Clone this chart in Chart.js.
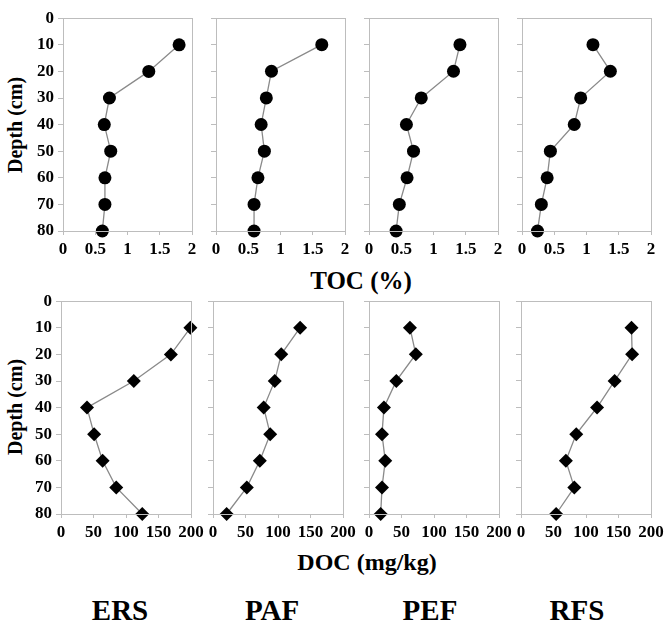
<!DOCTYPE html>
<html>
<head>
<meta charset="utf-8">
<script src="https://cdn.jsdelivr.net/npm/chart.js@4.4.0/dist/chart.umd.min.js"></script>
<style>
  html, body { margin: 0; padding: 0; background: #fff; }
  #fig { position: relative; width: 665px; height: 622px; overflow: hidden; font-family: "Liberation Serif", "Times New Roman", serif; font-weight: bold; color: #000; }
  #fig canvas { position: absolute; }
  .lbl { position: absolute; transform: translate(-50%, -50%); white-space: nowrap; line-height: 1; }
  .ylbl { position: absolute; transform: translate(-50%, -50%) rotate(-90deg); white-space: nowrap; font-size: 20px; line-height: 1; }
</style>
</head>
<body>
<div id="fig">
  <div class="ylbl" style="left:15px; top:125px;">Depth (cm)</div>
  <div class="ylbl" style="left:15px; top:407px;">Depth (cm)</div>
  <div class="lbl" style="left:361px; top:280px; font-size:25px;">TOC (%)</div>
  <div class="lbl" style="left:367px; top:562px; font-size:24px;">DOC (mg/kg)</div>
  <div class="lbl" style="left:120px; top:610px; font-size:29px;">ERS</div>
  <div class="lbl" style="left:272px; top:610px; font-size:29px;">PAF</div>
  <div class="lbl" style="left:430px; top:610px; font-size:29px;">PEF</div>
  <div class="lbl" style="left:577px; top:610px; font-size:29px;">RFS</div>
</div>
<script>
  const depths = [10, 20, 30, 40, 50, 60, 70, 80];

  // TOC (%) by depth
  const tocERS = [1.80, 1.33, 0.72, 0.64, 0.74, 0.65, 0.65, 0.61];
  const tocPAF = [1.64, 0.86, 0.78, 0.70, 0.75, 0.65, 0.59, 0.59];
  const tocPEF = [1.41, 1.31, 0.81, 0.58, 0.69, 0.59, 0.47, 0.42];
  const tocRFS = [1.10, 1.37, 0.91, 0.81, 0.44, 0.39, 0.30, 0.24];

  // DOC (mg/kg) by depth
  const docERS = [199, 169, 112, 40, 51, 64, 85, 125];
  const docPAF = [134, 105, 95, 78, 88, 72, 52, 21];
  const docPEF = [63, 72, 42, 23, 20, 25, 20, 18];
  const docRFS = [170, 171, 144, 117, 85, 69, 82, 54];

  const GRAY = "#bdbdbd";
  const LINE = "#8a8a8a";
  const tickFont = { family: "'Liberation Serif', 'Times New Roman', serif", size: 17, weight: "bold" };
  const fig = document.getElementById("fig");

  const framePlugin = {
    id: "frame",
    afterDraw(chart) {
      const a = chart.chartArea;
      const ctx = chart.ctx;
      ctx.save();
      ctx.strokeStyle = GRAY;
      ctx.lineWidth = 1;
      ctx.strokeRect(Math.round(a.left) + 0.5, Math.round(a.top) + 0.5, Math.round(a.right - a.left), Math.round(a.bottom - a.top));
      ctx.restore();
    },
  };

  function makePanel(p) {
    // the scale boxes must be wide/tall enough, labels get clipped to them
    const pad = 60, padTop = 14, padBottom = 40, axisW = 56, axisH = 36;
    const w = p.width + pad * 2;
    const h = p.height + padTop + padBottom;
    const canvas = document.createElement("canvas");
    canvas.width = w;
    canvas.height = h;
    canvas.style.width = w + "px";
    canvas.style.height = h + "px";
    canvas.style.left = (p.left - pad) + "px";
    canvas.style.top = (p.top - padTop) + "px";
    fig.appendChild(canvas);

    new Chart(canvas, {
      type: "scatter",
      data: {
        datasets: [{
          data: p.values.map((v, i) => ({ x: v, y: depths[i] })),
          showLine: true,
          borderColor: LINE,
          borderWidth: 1.3,
          backgroundColor: "#000",
          pointBackgroundColor: "#000",
          pointBorderColor: "#000",
          pointBorderWidth: 0,
          pointStyle: p.marker,
          pointRadius: p.radius,
          clip: false,
        }],
      },
      options: {
        responsive: false,
        animation: false,
        devicePixelRatio: 1,
        layout: { padding: { left: pad - axisW, right: pad, top: padTop, bottom: padBottom - axisH } },
        plugins: { legend: { display: false }, tooltip: { enabled: false } },
        scales: {
          x: {
            type: "linear",
            min: 0,
            max: p.xMax,
            afterFit: (s) => { s.height = axisH; },
            ticks: { stepSize: p.xStep, font: tickFont, color: "#000", padding: 4, maxRotation: 0, autoSkip: false, callback: (v) => String(v) },
            grid: { drawOnChartArea: false, tickLength: 4, color: GRAY },
            border: { color: GRAY },
          },
          y: {
            type: "linear",
            reverse: true,
            min: 0,
            max: 80,
            afterFit: (s) => { s.width = axisW; },
            ticks: { stepSize: 10, display: p.showY, font: tickFont, color: "#000", padding: 4, autoSkip: false },
            grid: { drawOnChartArea: false, tickLength: 5, color: GRAY },
            border: { color: GRAY },
          },
        },
      },
      plugins: [framePlugin],
    });
  }

  const topLefts = [63, 216, 369, 522];
  const bottomLefts = [61, 213, 369, 521];
  const tocSeries = [tocERS, tocPAF, tocPEF, tocRFS];
  const docSeries = [docERS, docPAF, docPEF, docRFS];

  tocSeries.forEach((values, i) => {
    makePanel({ left: topLefts[i], top: 18, width: 129, height: 213, values, xMax: 2, xStep: 0.5, marker: "circle", radius: 6.5, showY: i === 0 });
  });
  docSeries.forEach((values, i) => {
    makePanel({ left: bottomLefts[i], top: 301, width: 130, height: 213, values, xMax: 200, xStep: 50, marker: "rectRot", radius: 7, showY: i === 0 });
  });
</script>
</body>
</html>
